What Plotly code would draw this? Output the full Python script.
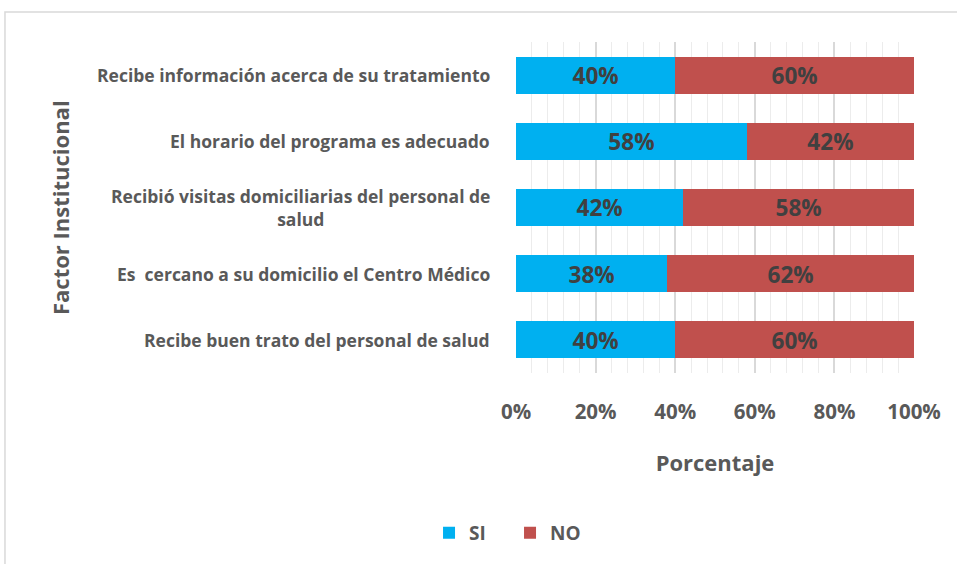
import plotly.graph_objects as go

factores = [
    "Recibe información acerca de su tratamiento",
    "El horario del programa es adecuado",
    "Recibió visitas domiciliarias del personal de<br>salud",
    "Es  cercano a su domicilio el Centro Médico",
    "Recibe buen trato del personal de salud",
]
si_vals = [0.40, 0.58, 0.42, 0.38, 0.40]
no_vals = [0.60, 0.42, 0.58, 0.62, 0.60]

FONT = "Open Sans"
GRAY = "#595959"

fig = go.Figure()
for name, vals, color in [("SI", si_vals, "#00B0F0"), ("NO", no_vals, "#C0504D")]:
    fig.add_trace(
        go.Bar(
            y=list(range(len(factores))),
            x=vals,
            name=name,
            orientation="h",
            marker=dict(color=color, line=dict(width=0)),
            text=[f"{v:.0%}" for v in vals],
            textposition="inside",
            insidetextanchor="middle",
            textfont=dict(family=FONT, size=24, color="#404040", weight="bold"),
            width=0.56,
        )
    )

# category labels, centred lines like the original
for i, lab in enumerate(factores):
    fig.add_annotation(
        x=0, xref="paper", y=i, yref="y",
        text=lab, showarrow=False, xanchor="right", align="center",
        xshift=-24,
        font=dict(family=FONT, size=17.5, color=GRAY, weight="bold"),
    )

fig.add_annotation(
    x=-1.147, xref="paper", y=0.5, yref="paper", text="Factor Institucional",
    textangle=-90, showarrow=False, xanchor="center",
    font=dict(family=FONT, size=22, color=GRAY, weight="bold"),
)

# outer chart border
fig.add_shape(
    type="rect", xref="paper", yref="paper",
    x0=-1.284, x1=1.2, y0=-0.7, y1=1.0906,
    line=dict(color="#d9d9d9", width=1.5), layer="below",
)

fig.update_layout(
    width=957, height=564,
    margin=dict(l=516, r=43, t=42, b=191),
    barmode="stack",
    bargap=0.44,
    paper_bgcolor="white", plot_bgcolor="white",
    showlegend=True,
    legend=dict(
        orientation="h", x=-0.015, xref="paper", xanchor="center",
        y=-0.483, yanchor="middle",
        font=dict(family=FONT, size=19, color=GRAY, weight="bold"),
        itemwidth=30, traceorder="normal",
        entrywidth=36, entrywidthmode="pixels",
    ),
    xaxis=dict(
        range=[0, 1], tickformat=".0%", dtick=0.2,
        showgrid=True, gridcolor="#d9d9d9", gridwidth=1.5,
        minor=dict(dtick=0.04, showgrid=True, gridcolor="#ececec", gridwidth=1),
        zeroline=False, showline=False,
        tickfont=dict(family=FONT, size=20.5, color=GRAY, weight="bold"),
        ticklabelstandoff=24,
        title=dict(text="Porcentaje", standoff=32,
                   font=dict(family=FONT, size=22, color=GRAY, weight="bold")),
    ),
    yaxis=dict(
        range=[4.5, -0.5], showticklabels=False, showgrid=False,
        zeroline=False, showline=False,
    ),
)

fig.write_html(
    "out.html",
    config={"displayModeBar": False},
    post_script="document.body.style.margin='0';",
)
